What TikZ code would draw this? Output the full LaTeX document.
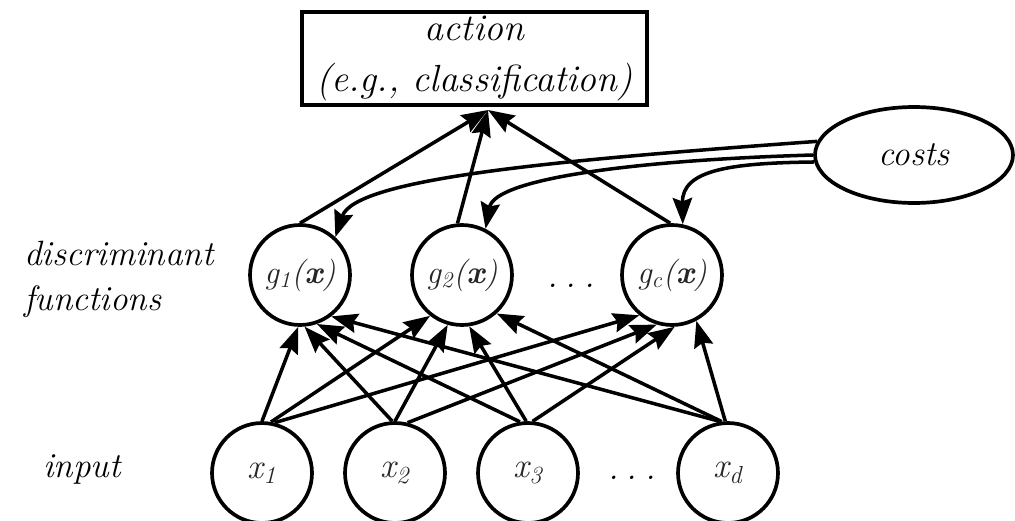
\documentclass[tikz,border=0pt]{standalone}
\usetikzlibrary{shapes.geometric,arrows.meta}
\begin{document}
\begin{tikzpicture}[x=0.02cm,y=-0.02cm,
  lbl/.style={font=\fontsize{20}{25.5}\selectfont\itshape},
  unit/.style={circle,draw,line width=2.1pt,minimum size=2cm,inner sep=0pt,
    text=black!85,font=\fontsize{18.5}{20}\selectfont\itshape},
  conn/.style={line width=2pt,-{Stealth[length=15pt,width=11pt,inset=2pt]}},
]
\useasboundingbox (0,0) rectangle (1015,521);
% action box and costs
\node[draw,line width=2.6pt,minimum width=6.9cm,minimum height=1.86cm,inner sep=0pt,
  align=center,font=\fontsize{21.5}{29.5}\selectfont\itshape] (action) at (474.5,58.5)
  {action\\(e.g., classification)};
\node[ellipse,draw,line width=2.1pt,minimum width=3.96cm,minimum height=1.92cm,
  inner sep=0pt,lbl] (costs) at (914,155) {costs};
% discriminant units
\node[unit] (g1) at (300,275) {g\textsubscript{1}(\textbf{x})};
\node[unit] (g2) at (462,275) {g\textsubscript{2}(\textbf{x})};
\node[unit] (gc) at (672,275) {g\textsubscript{c}(\textbf{x})};
% inputs
\node[unit,font=\fontsize{20}{22}\selectfont\itshape] (x1) at (262,473) {x\textsubscript{1}};
\node[unit,font=\fontsize{20}{22}\selectfont\itshape] (x2) at (395,473) {x\textsubscript{2}};
\node[unit,font=\fontsize{20}{22}\selectfont\itshape] (x3) at (528,473) {x\textsubscript{3}};
\node[unit,font=\fontsize{20}{22}\selectfont\itshape] (xd) at (728,473) {x\textsubscript{d}};
% labels
\node[lbl,anchor=base west,align=left] (disc) at (18,310) {discriminant\\functions};
\node[lbl,anchor=base west] (inp) at (37,477) {input};
\node[lbl,anchor=base] (gdots) at (571,287) {.\hspace{4.6pt}.\hspace{4.6pt}.};
\node[lbl,anchor=base] (xdots) at (632,479) {.\hspace{4.6pt}.\hspace{4.6pt}.};
% g -> action
\coordinate (conv) at (488,110);
\draw[conn] (g1.90) -- (conv);
\draw[conn] (g2.95) -- (conv);
\draw[conn] (gc.92) -- (conv);
% costs -> g
\draw[conn] (costs.172) .. controls (560,160) and (355,178) .. (g1.47);
\draw[conn] (costs.180) .. controls (640,160) and (495,178) .. (g2.63);
\draw[conn] (costs.184) .. controls (730,163) and (682,170) .. (gc.78);
% inputs -> g
\draw[conn] (x1.90) -- (g1.-92);
\draw[conn] (x1.80) -- (g2.-128);
\draw[conn] (x1.76) -- (gc.-129);
\draw[conn] (x2.93) -- (g1.-85);
\draw[conn] (x2.90) -- (g2.-106);
\draw[conn] (x2.76) -- (gc.-107);
\draw[conn] (x3.99) -- (g1.-71);
\draw[conn] (x3.92) -- (g2.-82);
\draw[conn] (x3.85) -- (gc.-87);
\draw[conn] (xd.98) -- (g1.-53);
\draw[conn] (xd.97) -- (g2.-48);
\draw[conn] (xd.93) -- (gc.-62);
\end{tikzpicture}
\end{document}
